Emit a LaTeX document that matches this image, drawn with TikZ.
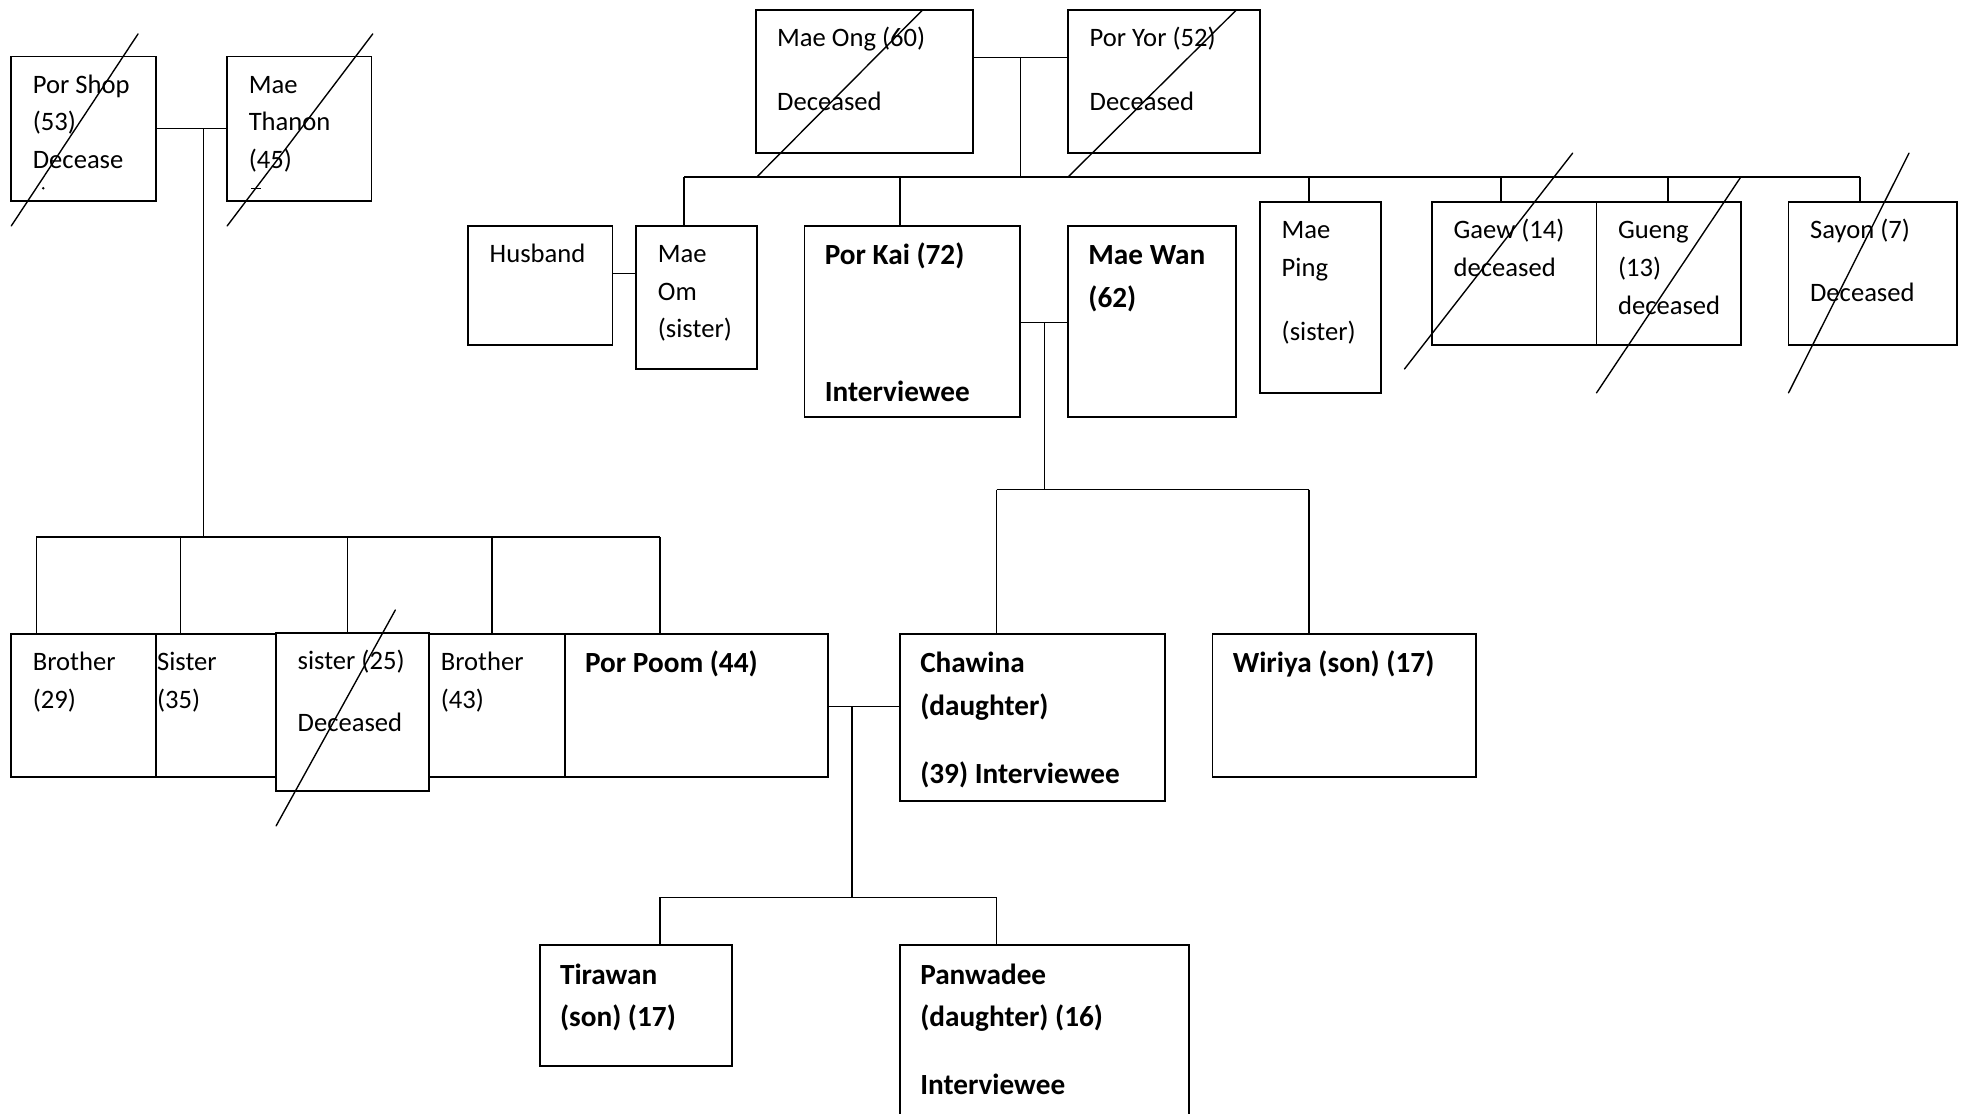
\documentclass[tikz,border=0pt]{standalone}
\usepackage{fontspec}
\setmainfont{Carlito}
\usetikzlibrary{calc}

\tikzset{
  personbox/.style={draw, fill=white, line width=1.5pt, inner sep=0pt, outer sep=0pt, anchor=north west},
  lbl/.style={inner sep=0pt, anchor=north west, align=left,
              font=\fontsize{21.2}{30}\selectfont},
  blbl/.style={inner sep=0pt, anchor=north west, align=left,
               font=\bfseries\fontsize{23.3}{34}\selectfont},
  link/.style={line width=1.2pt},
  crossout/.style={line width=1.1pt, line cap=round},
}

% box: name, left, top, width, height
\newcommand\mkbox[5]{\node[personbox, minimum width=#4pt, minimum height=#5pt] (#1) at (#2,#3) {};}
% regular and bold captions placed inside the top-left corner of a box
\newcommand\rtext[3][17]{\node[lbl] (#2-t) at ($(#2.north west)+(#1,8)$) {\strut #3};}
\newcommand\btext[3][16]{\node[blbl] (#2-t) at ($(#2.north west)+(#1,7)$) {\strut #3};}
% vertical drop from a bar at height y (x given) to the top of a box
\newcommand\drop[3]{\path (#2,#3) coordinate (d-#1); \draw[link] (d-#1) -- (d-#1 |- #1.north);}

\begin{document}
\begin{tikzpicture}[x=1pt, y=-1pt]
\fill[white] (0,0) rectangle (1568,887);
\useasboundingbox (0,0) rectangle (1568,887);
\clip (0,0) rectangle (1568,887);

% ---------- boxes ----------
\mkbox{porshop}{9}{45}{115}{115}
\mkbox{maethanon}{181}{45}{115}{115}
\mkbox{maeong}{602}{8}{173}{114}
\mkbox{poryor}{851}{8}{153}{114}
\mkbox{husband}{373}{180}{115}{95}
\mkbox{maeom}{507}{180}{96}{114}
\mkbox{porkai}{641}{180}{172}{152}
\mkbox{maewan}{851}{180}{134}{152}
\mkbox{maeping}{1004}{161}{96}{152}
\mkbox{gaew}{1141}{161}{131}{114}
\mkbox{gueng}{1272}{161}{115}{114}
\mkbox{sayon}{1425}{161}{134}{114}
\mkbox{brotherA}{9}{505}{115}{114}
\mkbox{sisterA}{124}{505}{106}{114}
\mkbox{brotherB}{330}{505}{120}{114}
\mkbox{porpoom}{450}{505}{210}{114}
\mkbox{sisterB}{220}{504}{122}{126}
\mkbox{chawina}{717}{505}{211}{133}
\mkbox{wiriya}{966}{505}{210}{114}
\mkbox{tirawan}{430}{753}{153}{96}
\mkbox{panwadee}{717}{753}{230}{147}

% ---------- captions ----------
\rtext{porshop}{Por Shop\\(53)\\Decease}
\rtext{maethanon}{Mae\\Thanon\\(45)}
\rtext{maeong}{Mae Ong (60)\\[21pt]Deceased}
\rtext{poryor}{Por Yor (52)\\[21pt]Deceased}
\rtext{husband}{Husband}
\rtext{maeom}{Mae\\Om\\(sister)}
\btext{porkai}{Por Kai (72)\\[75pt]Interviewee}
\btext{maewan}{Mae Wan\\(62)}
\rtext{maeping}{Mae\\Ping\\[21pt](sister)}
\rtext{gaew}{Gaew (14)\\deceased}
\rtext{gueng}{Gueng\\(13)\\deceased}
\rtext{sayon}{Sayon (7)\\[20pt]Deceased}
\rtext{brotherA}{Brother\\(29)}
\rtext[1]{sisterA}{Sister\\(35)}
\rtext{sisterB}{sister (25)\\[20pt]Deceased}
\rtext[21]{brotherB}{Brother\\(43)}
\btext{porpoom}{Por Poom (44)}
\btext{chawina}{Chawina\\(daughter)\\[20pt](39) Interviewee}
\btext{wiriya}{Wiriya (son) (17)}
\btext{tirawan}{Tirawan\\(son) (17)}
\btext{panwadee}{Panwadee\\(daughter) (16)\\[20pt]Interviewee}

% clipped remnants of a further caption line
\fill (34.5,150) circle (1.1pt);
\draw[line width=1.1pt] (200,150) -- (208,150);

% ---------- Por Shop and Mae Thanon's family ----------
\coordinate (jA) at (162,103);
\draw[link] (porshop.east) -- (maethanon.west);
\draw[link] (jA) -- (162,428);
\draw[link] (29,428) -- (526,428);
\drop{brotherA}{29}{428}
\drop{sisterA}{144}{428}
\drop{sisterB}{277}{428}
\drop{brotherB}{392}{428}
\drop{porpoom}{526}{428}

% ---------- Mae Ong and Por Yor's family ----------
\coordinate (jB) at (813,46);
\draw[link] (maeong.east |- jB) -- (poryor.west |- jB);
\draw[link] (jB) -- (813,141);
\draw[link] (545,141) -- (1482,141);
\drop{maeom}{545}{141}
\drop{porkai}{717}{141}
\drop{maeping}{1043}{141}
\drop{gaew}{1196}{141}
\drop{gueng}{1329}{141}
\drop{sayon}{1482}{141}

\coordinate (jH) at (497,218);
\draw[link] (husband.east |- jH) -- (maeom.west |- jH);

% ---------- Por Kai and Mae Wan's family ----------
\coordinate (jC) at (832,257);
\draw[link] (porkai.east |- jC) -- (maewan.west |- jC);
\draw[link] (jC) -- (832,390);
\draw[link] (794,390) -- (1043,390);
\drop{chawina}{794}{390}
\drop{wiriya}{1043}{390}

% ---------- Por Poom and Chawina's family ----------
\coordinate (jD) at (679,563);
\draw[link] (porpoom.east |- jD) -- (chawina.west |- jD);
\draw[link] (jD) -- (679,715);
\draw[link] (526,715) -- (794,715);
\drop{tirawan}{526}{715}
\drop{panwadee}{794}{715}

% ---------- deceased marks ----------
\draw[crossout] (110,27) -- (9,180);
\draw[crossout] (297,27) -- (181,180);
\draw[crossout] (735,8) -- (603,141);
\draw[crossout] (985,8) -- (851,141);
\draw[crossout] (1253,122) -- (1119,294);
\draw[crossout] (1387,141) -- (1272,313);
\draw[crossout] (1521,122) -- (1425,313);
\draw[crossout] (315,486) -- (220,658);
\end{tikzpicture}
\end{document}
